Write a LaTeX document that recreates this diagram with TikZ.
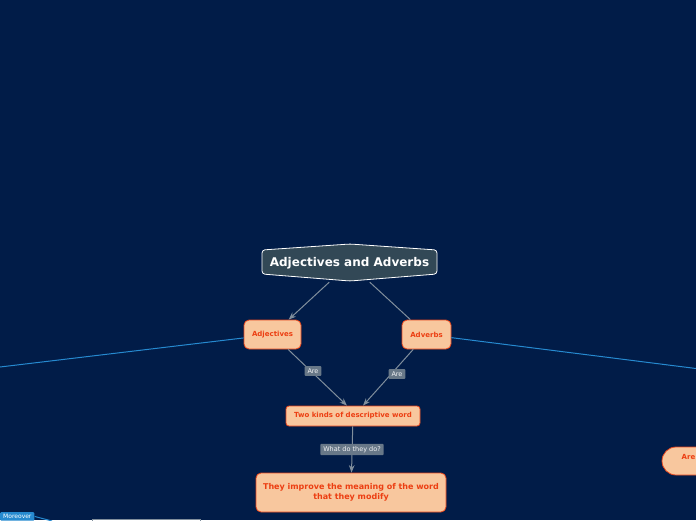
\documentclass[tikz,border=0pt]{standalone}
\usepackage{fontspec}
\setmainfont{DejaVu Sans}
\usepackage{tikz}
\usetikzlibrary{arrows.meta, positioning, calc}
\definecolor{mapnavy}{RGB}{1, 28, 72}
\definecolor{rootfill}{RGB}{50, 72, 86}
\definecolor{topicfill}{RGB}{248, 199, 158}
\definecolor{topicedge}{RGB}{232, 70, 28}
\definecolor{topictext}{RGB}{236, 62, 18}
\definecolor{tagfill}{RGB}{104, 120, 136}
\definecolor{linkgrey}{RGB}{128, 142, 156}
\definecolor{lineblue}{RGB}{38, 138, 208}

\begin{document}
\begin{tikzpicture}[x=1pt, y=-1pt, >=Stealth,
    topic/.style={draw=topicedge, fill=topicfill, text=topictext, line width=0.8pt,
        rounded corners=5pt, inner sep=0pt, font=\bfseries\fontsize{7}{8}\selectfont},
    tag/.style={fill=tagfill, text=white!90!tagfill, rounded corners=1pt,
        inner xsep=3pt, inner ysep=2.5pt, font=\fontsize{6.5}{7.5}\selectfont},
    link/.style={draw=linkgrey, line width=1pt},
    bluelink/.style={draw=lineblue, line width=1pt}]
    \useasboundingbox (0,0) rectangle (696,520);
    \clip (0,0) rectangle (696,520);
    \fill[mapnavy] (0,0) rectangle (696,520);

    % central topic
    \draw[white, fill=rootfill, line width=0.8pt, rounded corners=3pt]
        (262,250) -- (350,244) -- (437,250) -- (437,274) -- (350,281) -- (262,274) -- cycle;
    \node[text=white, font=\bfseries\fontsize{12}{14}\selectfont, minimum width=175, minimum height=37, inner sep=0pt]
        (root) at (349.5,263.5) {Adjectives and Adverbs};

    % main topics
    \node[topic, minimum width=57, minimum height=29] (adj) at (272.5,334.5) {Adjectives};
    \node[topic, minimum width=49, minimum height=29] (adv) at (426.5,334.5) {Adverbs};
    \node[topic, rounded corners=3pt, minimum width=134, minimum height=20] (kinds) at (353,416) {Two kinds of descriptive word};
    \node[topic, align=center, minimum width=190, minimum height=39, font=\bfseries\fontsize{8}{10}\selectfont]
        (improve) at (351,492.5) {They improve the meaning of the word\\that they modify};

    % off-page topics
    \coordinate (farleft) at (0,367);
    \coordinate (farright) at (696,368.5);
    \node[topic, rounded corners=14pt, minimum width=130, minimum height=28] (arebox) at (727,461) {};
    \node[text=topictext, font=\bfseries\fontsize{7}{8}\selectfont, anchor=west, inner sep=0pt] (aretext) at (681.5,456.5) {Are};
    \draw[linkgrey, line width=0.8pt] (92,519.5) -- (200,519.5) -- (200,530) -- (92,530) -- cycle;
    \node[fill=lineblue, text=white, rounded corners=1pt, inner xsep=3pt, inner ysep=2pt,
        font=\fontsize{6}{7}\selectfont, anchor=north west] (more) at (0,512) {Moreover};
    \coordinate (moreend) at (52,521);

    % connectors
    \draw[link, ->] (root) -- (adj);
    \draw[link] (root) -- (adv);
    \draw[link, ->] (adj) -- ($(kinds.north)+(-6,0)$);
    \draw[link, ->] (adv) -- ($(kinds.north)+(10,0)$);
    \draw[link, ->] (kinds) -- (improve);
    \draw[bluelink] (adj) -- (farleft);
    \draw[bluelink] (adv) -- (farright);
    \draw[bluelink] (more.east) -- (moreend);

    % connector labels
    \node[tag] (are1) at (313,371) {Are};
    \node[tag] (are2) at (397,374) {Are};
    \node[tag] (what) at (352,449.5) {What do they do?};
\end{tikzpicture}
\end{document}
